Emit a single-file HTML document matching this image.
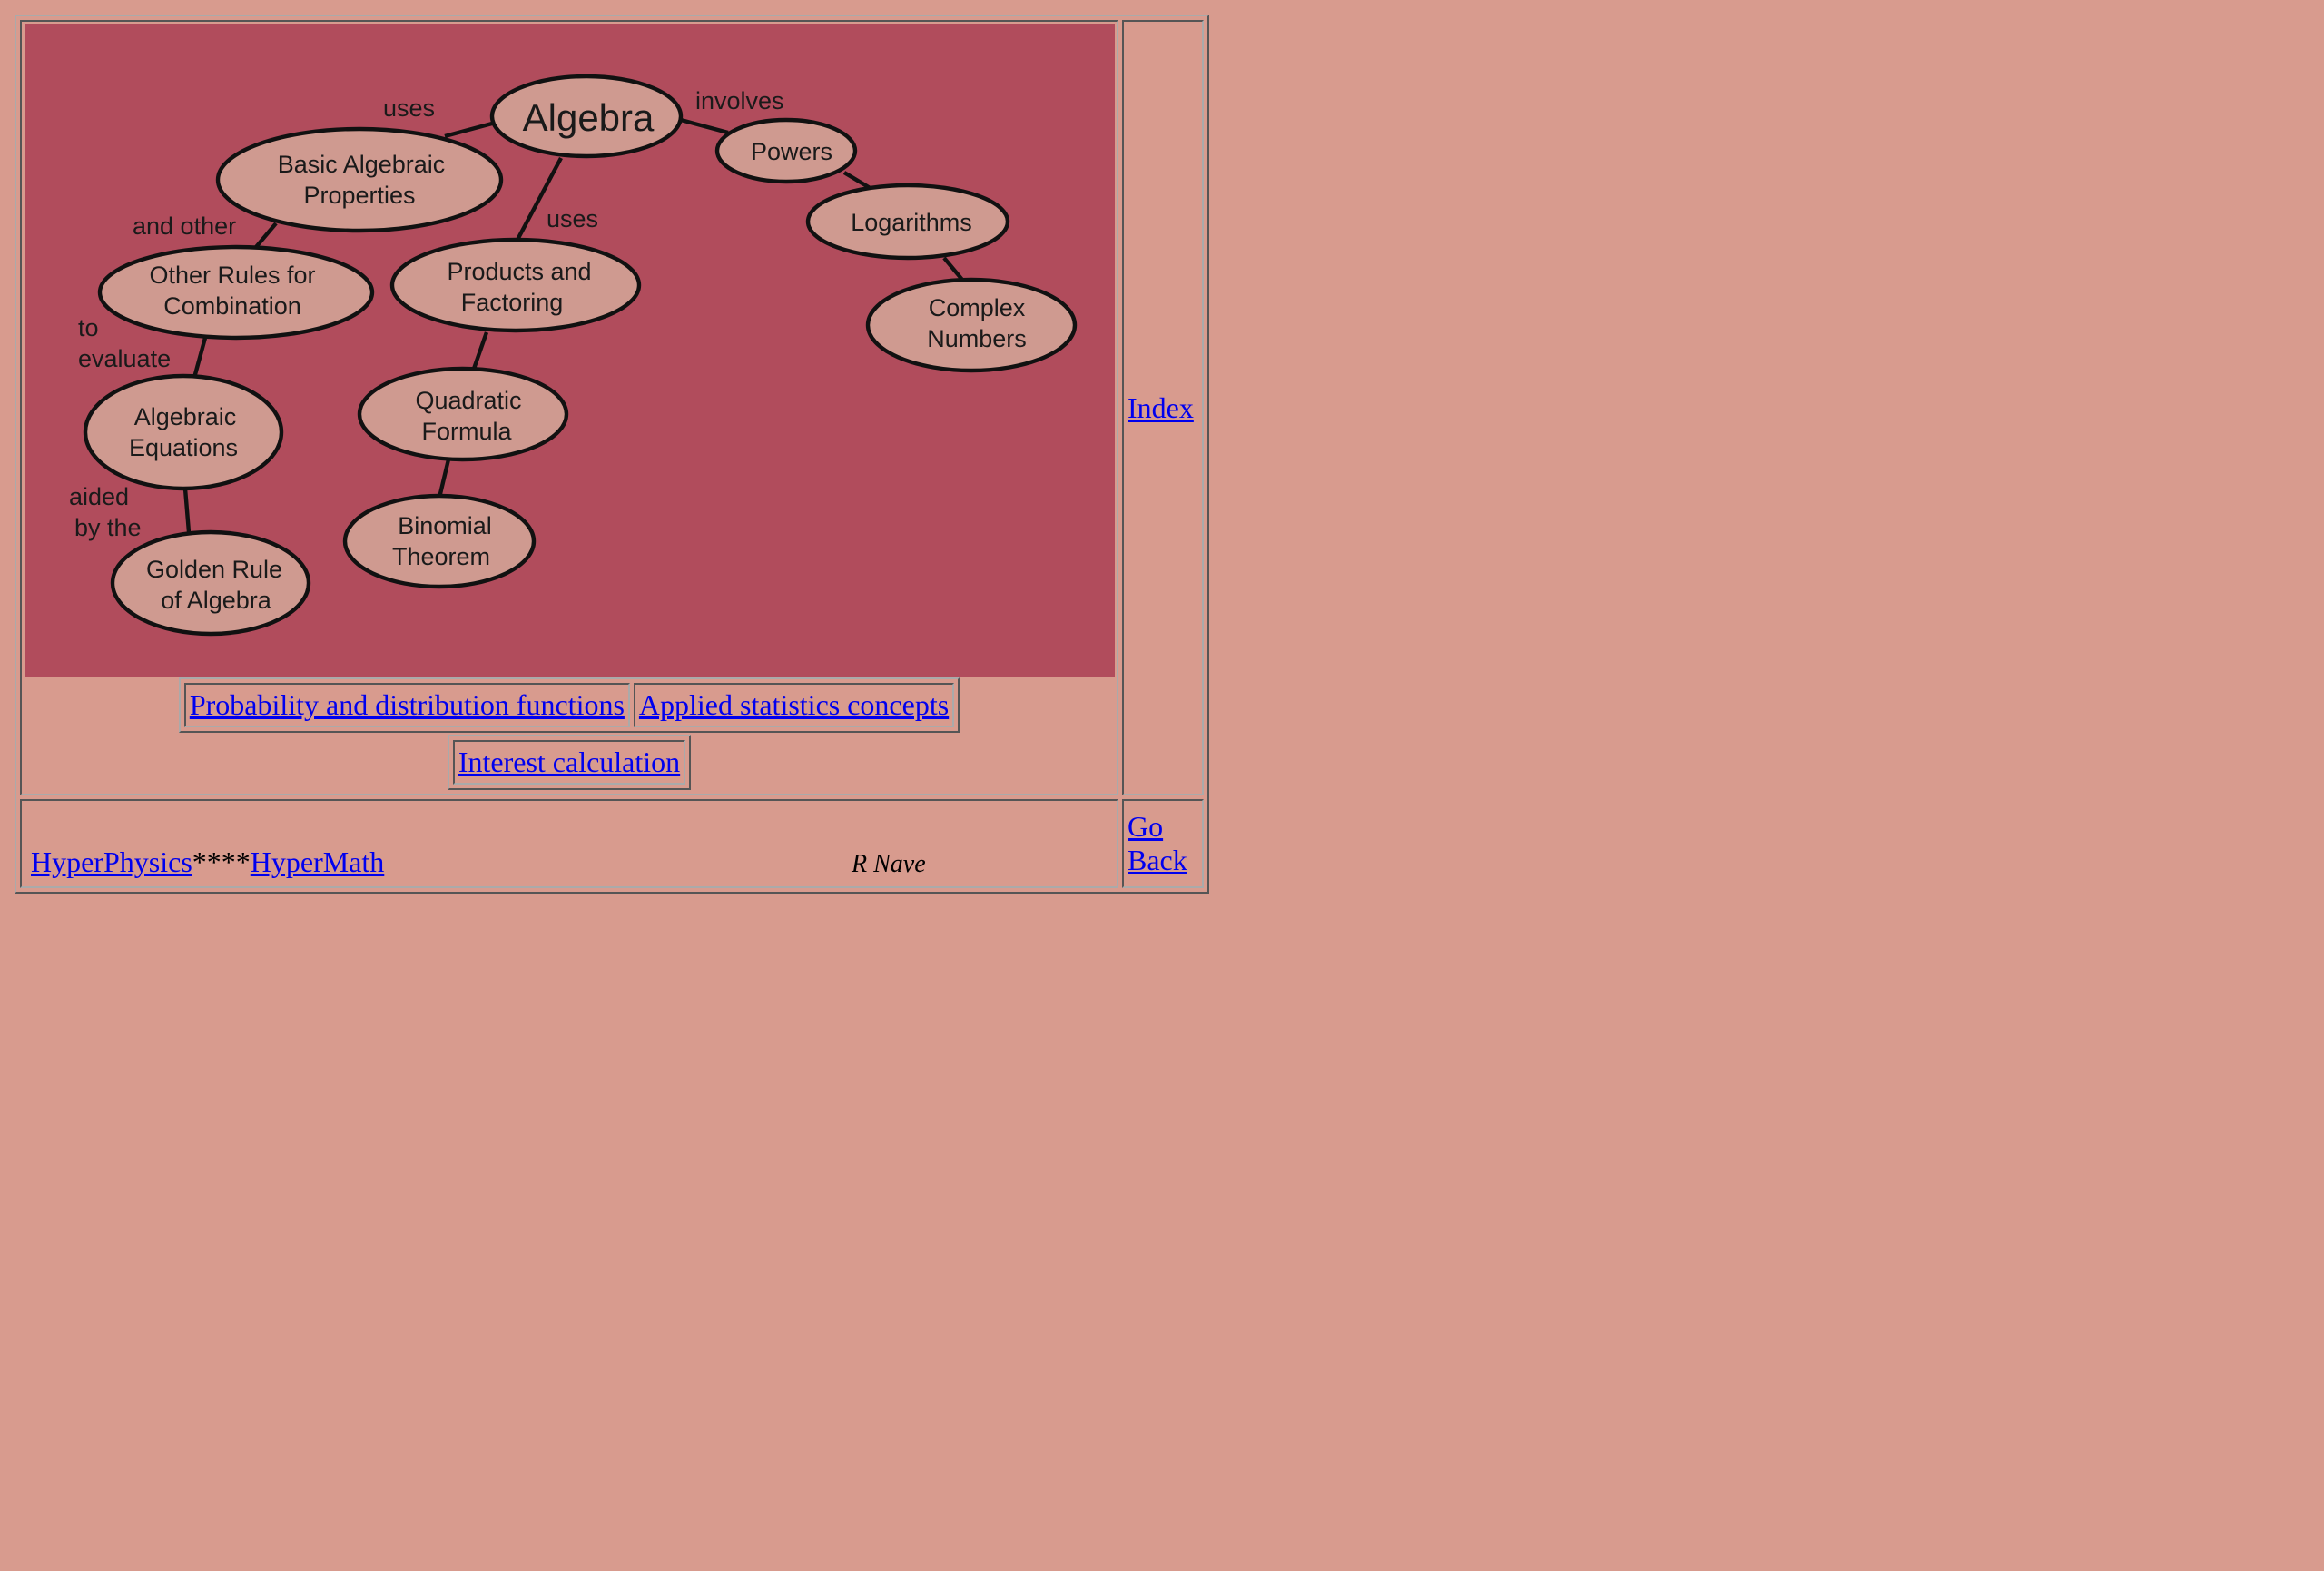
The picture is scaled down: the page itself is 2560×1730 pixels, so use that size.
<!DOCTYPE html>
<html><head><meta charset="utf-8"><style>
html,body{margin:0;padding:0}
body{zoom:2;margin:8px;background:#d89b8e;font-family:"Liberation Serif",serif;font-size:16px;color:#000;width:1264px;height:849px;overflow:hidden}
a{color:#0000ee;text-decoration:underline}
table{border-collapse:separate;border-spacing:2px;border:1px solid;border-color:#aaa #555 #555 #aaa}
td{padding:1px;border:1px solid;border-color:#555 #aaa #aaa #555}
.c{margin:0 auto}
.c td{padding:2px}
svg{display:block;margin-left:1px}
svg text{font-family:"Liberation Sans",sans-serif;font-size:13.5px;fill:#1a1a1a;text-anchor:middle}
svg text.l{text-anchor:start}
</style></head><body>
<table>
<tr><td style="vertical-align:top">
<svg width="600" height="360" viewBox="0 0 600 360">
<rect width="600" height="360" fill="#b14c5c"/>
<g stroke="#111" stroke-width="2.2">
<line x1="257" y1="55" x2="231" y2="62"/>
<line x1="361" y1="53" x2="387" y2="60"/>
<line x1="451" y1="82" x2="466" y2="91"/>
<line x1="506" y1="129" x2="516" y2="141"/>
<line x1="295" y1="74" x2="271" y2="119"/>
<line x1="138" y1="110" x2="127" y2="123"/>
<line x1="254" y1="170" x2="247" y2="190"/>
<line x1="99" y1="173" x2="93" y2="195"/>
<line x1="233" y1="240" x2="228" y2="261"/>
<line x1="88" y1="256" x2="90" y2="280"/>
</g>
<g fill="#cf9a90" stroke="#111" stroke-width="2.2">
<ellipse cx="309" cy="51" rx="52" ry="22"/>
<ellipse cx="419" cy="70" rx="38" ry="17"/>
<ellipse cx="486" cy="109" rx="55" ry="20"/>
<ellipse cx="521" cy="166" rx="57" ry="25"/>
<ellipse cx="184" cy="86" rx="78" ry="28"/>
<ellipse cx="270" cy="144" rx="68" ry="25"/>
<ellipse cx="116" cy="148" rx="75" ry="25"/>
<ellipse cx="241" cy="215" rx="57" ry="25"/>
<ellipse cx="87" cy="225" rx="54" ry="31"/>
<ellipse cx="228" cy="285" rx="52" ry="25"/>
<ellipse cx="102" cy="308" rx="54" ry="28"/>
</g>
<text x="310" y="59" style="font-size:21px">Algebra</text>
<text x="422" y="75">Powers</text>
<text x="488" y="114">Logarithms</text>
<text x="524" y="161">Complex</text><text x="524" y="178">Numbers</text>
<text x="185" y="82">Basic Algebraic</text><text x="184" y="99">Properties</text>
<text x="272" y="141">Products and</text><text x="268" y="158">Factoring</text>
<text x="114" y="143">Other Rules for</text><text x="114" y="160">Combination</text>
<text x="244" y="212">Quadratic</text><text x="243" y="229">Formula</text>
<text x="88" y="221">Algebraic</text><text x="87" y="238">Equations</text>
<text x="231" y="281">Binomial</text><text x="229" y="298">Theorem</text>
<text x="104" y="305">Golden Rule</text><text x="105" y="322">of Algebra</text>
<text class="l" x="197" y="51">uses</text>
<text class="l" x="369" y="47">involves</text>
<text class="l" x="59" y="116">and other</text>
<text class="l" x="287" y="112">uses</text>
<text class="l" x="29" y="172">to</text><text class="l" x="29" y="189">evaluate</text>
<text class="l" x="24" y="265">aided</text><text class="l" x="27" y="282">by the</text>
</svg>
<table class="c"><tr><td><a href="#">Probability and distribution functions</a></td><td><a href="#">Applied statistics concepts</a></td></tr></table>
<table class="c" style="margin-top:1px;margin-bottom:1px"><tr><td><a href="#">Interest calculation</a></td></tr></table>
</td><td style="vertical-align:middle;padding-left:2px"><a href="#">Index</a></td></tr>
<tr><td style="vertical-align:bottom;height:45px"><div style="position:relative;padding:0 4px 3px 4px"><a href="#">HyperPhysics</a>****<a href="#">HyperMath</a><i style="position:absolute;left:456px;bottom:3px;font-size:14px">R Nave</i></div></td>
<td style="width:40px;padding-left:2px"><a href="#">Go Back</a></td></tr>
</table>
</body></html>
